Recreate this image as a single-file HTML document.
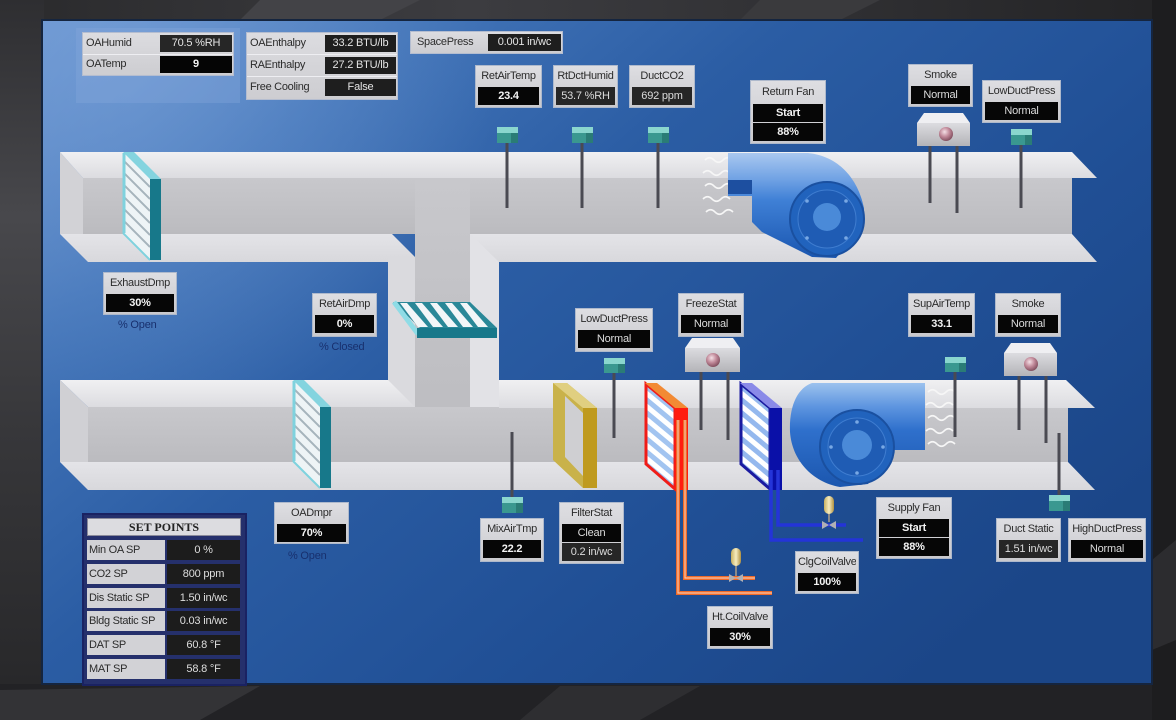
<!DOCTYPE html>
<html><head><meta charset="utf-8">
<style>
html,body{margin:0;padding:0;width:1176px;height:720px;overflow:hidden;background:#2a2a2d;font-family:"Liberation Sans",Arial,sans-serif;}
svg{position:absolute;left:0;top:0}
.b{position:absolute;box-sizing:border-box;border:1px solid #aeb9cc;background:linear-gradient(#dedee2,#c9c9cd);padding:0 2px 2px}
.l{text-align:center;font-size:11px;color:#2b2b2b;height:21px;line-height:21px;white-space:nowrap;overflow:hidden;letter-spacing:-0.3px}
.v{background:#060606;color:#f2f2f2;text-align:center;font-size:11px;font-weight:bold;height:18px;line-height:18px;white-space:nowrap;overflow:hidden;letter-spacing:-0.2px}
.v+.v{margin-top:1px}
.n{font-weight:normal;color:#dcdcdc}
.d{background:#262626}
.g{position:absolute;box-sizing:border-box;border:1px solid #b4bdd0;background:linear-gradient(#dcdce0,#cdcdd1)}
.r{position:absolute;left:0;right:0;height:22px;border-bottom:1px solid #eeeef2;box-sizing:border-box}
.rl{position:absolute;left:3px;top:0;font-size:11px;line-height:21px;color:#2b2b2b;letter-spacing:-0.3px;white-space:nowrap}
.rv{position:absolute;right:1px;top:2px;height:17px;background:#1e1e1e;color:#e4e4e4;text-align:center;font-size:11px;line-height:17px;white-space:nowrap;letter-spacing:-0.2px}
.u{position:absolute;font-size:11px;color:#18306e;white-space:nowrap;letter-spacing:-0.2px}
.sp{position:absolute;left:82px;top:513px;width:165px;height:173px;box-sizing:border-box;background:#25306c;border:2px solid #1a2262}
.st{position:absolute;left:87px;top:518px;width:154px;height:18px;box-sizing:border-box;background:#dcdce0;border:1px solid #8a8a9a;text-align:center;font-family:"Liberation Serif",serif;font-weight:bold;font-size:12px;line-height:16px;color:#222}
.sl{position:absolute;left:87px;width:78px;height:20px;background:#d2d2d6;font-size:11px;line-height:20px;color:#2b2b2b;padding-left:2px;box-sizing:border-box;letter-spacing:-0.3px;white-space:nowrap}
.sv{position:absolute;left:167px;width:73px;height:20px;background:#1c1c1c;color:#dedede;font-size:11px;line-height:20px;text-align:center;letter-spacing:-0.2px}
</style></head><body>
<svg width="1176" height="720" viewBox="0 0 1176 720">
<defs>
<linearGradient id="bgl" x1="0" y1="0" x2="0" y2="1">
<stop offset="0" stop-color="#2e2e31"/><stop offset="0.3" stop-color="#48484c"/><stop offset="0.6" stop-color="#37373a"/><stop offset="1" stop-color="#262628"/></linearGradient>
<linearGradient id="bgt" x1="0" y1="0" x2="1" y2="0">
<stop offset="0" stop-color="#2a2a2c"/><stop offset="0.4" stop-color="#3c3c40"/><stop offset="0.7" stop-color="#303033"/><stop offset="1" stop-color="#232325"/></linearGradient>
<linearGradient id="pn" x1="0" y1="0" x2="1" y2="0.7">
<stop offset="0" stop-color="#6792ce"/><stop offset="0.22" stop-color="#4274b8"/><stop offset="0.45" stop-color="#2b5da4"/><stop offset="0.75" stop-color="#204f95"/><stop offset="1" stop-color="#1b4688"/></linearGradient>
<radialGradient id="tl" cx="120" cy="50" r="380" gradientUnits="userSpaceOnUse">
<stop offset="0" stop-color="#7ea6dc" stop-opacity="0.55"/><stop offset="1" stop-color="#7ea6dc" stop-opacity="0"/></radialGradient>
<linearGradient id="face" x1="0" y1="0" x2="0" y2="1"><stop offset="0" stop-color="#f0f0f2"/><stop offset="1" stop-color="#dcdce0"/></linearGradient>
<linearGradient id="bot" x1="0" y1="0" x2="0" y2="1"><stop offset="0" stop-color="#e4e4e8"/><stop offset="1" stop-color="#d8d8dc"/></linearGradient>
<linearGradient id="wall" x1="0" y1="0" x2="0" y2="1"><stop offset="0" stop-color="#c8c8cc"/><stop offset="1" stop-color="#bbbbbf"/></linearGradient>
<linearGradient id="rf" x1="0" y1="153" x2="0" y2="258" gradientUnits="userSpaceOnUse">
<stop offset="0" stop-color="#a9c8f0"/><stop offset="0.25" stop-color="#70a2e4"/><stop offset="0.45" stop-color="#3f80d6"/><stop offset="1" stop-color="#1a56b0"/></linearGradient>
<linearGradient id="sf" x1="0" y1="383" x2="0" y2="488" gradientUnits="userSpaceOnUse">
<stop offset="0" stop-color="#9cc2ee"/><stop offset="0.22" stop-color="#5f96e0"/><stop offset="0.45" stop-color="#2f70cc"/><stop offset="1" stop-color="#1b56ae"/></linearGradient>
<linearGradient id="det" x1="0" y1="0" x2="0" y2="1"><stop offset="0" stop-color="#dcdce0"/><stop offset="1" stop-color="#b4b4b8"/></linearGradient>
<radialGradient id="ball" cx="0.4" cy="0.35" r="0.7"><stop offset="0" stop-color="#f4e0e6"/><stop offset="0.5" stop-color="#c08898"/><stop offset="1" stop-color="#7a4858"/></radialGradient>
<linearGradient id="act" x1="0" y1="0" x2="1" y2="0"><stop offset="0" stop-color="#c8b060"/><stop offset="0.5" stop-color="#f6ecc0"/><stop offset="1" stop-color="#b09040"/></linearGradient>
<clipPath id="cEx"><polygon points="123,152 150,179 150,260 123,233"/></clipPath>
<clipPath id="cOa"><polygon points="293,380 320,407 320,488 293,461"/></clipPath>
<clipPath id="cHt"><polygon points="645,383 675,408 675,490 645,465"/></clipPath>
<clipPath id="cCl"><polygon points="740,383 770,408 770,490 740,465"/></clipPath>
</defs>

<!-- outer background -->
<rect x="0" y="0" width="1176" height="720" fill="#29292c"/>
<rect x="0" y="0" width="1176" height="22" fill="url(#bgt)"/>
<rect x="0" y="0" width="44" height="720" fill="url(#bgl)"/>
<rect x="0" y="684" width="1176" height="36" fill="#222225"/>
<polygon points="0,690 260,686 200,720 0,720" fill="#333336"/>
<polygon points="560,686 700,686 640,720 520,720" fill="#2e2e31"/>
<rect x="1152" y="0" width="24" height="720" fill="#1d1d1f"/>
<polygon points="1152,560 1176,540 1176,640 1152,650" fill="#2c2c2f"/>
<polygon points="260,0 420,0 380,20 240,20" fill="#434347"/>
<polygon points="760,0 880,0 840,20 740,20" fill="#3a3a3d"/>

<!-- panel -->
<rect x="42" y="20" width="1110" height="664" fill="url(#pn)" stroke="#15253f" stroke-width="2"/>
<rect x="43" y="21" width="1108" height="662" fill="url(#tl)"/>
<rect x="76" y="28" width="164" height="75" fill="#86aadc" opacity="0.35"/>

<!-- ducts: walls -->
<rect x="83" y="178" width="989" height="56" fill="url(#wall)"/>
<rect x="415" y="178" width="55" height="284" fill="url(#wall)"/>
<rect x="88" y="407" width="980" height="55" fill="url(#wall)"/>
<polygon points="60,152 83,178 83,234 60,234" fill="#d2d2d6"/>
<polygon points="60,380 88,407 88,462 60,462" fill="#d0d0d4"/>
<!-- top duct faces -->
<polygon points="60,152 1072,152 1097,178 83,178" fill="url(#face)"/>
<polygon points="60,234 392,234 415,257 415,262 88,262" fill="url(#bot)"/>
<rect x="388" y="257" width="27" height="150" fill="#dadade"/>
<rect x="470" y="234" width="29" height="173" fill="#e2e2e6"/>
<polygon points="470,234 1072,234 1097,262 499,262" fill="url(#bot)"/>
<!-- lower duct faces -->
<polygon points="60,380 388,380 415,407 88,407" fill="url(#face)"/>
<polygon points="499,380 1066,380 1095,408 499,408" fill="url(#face)"/>
<polygon points="60,462 1068,462 1095,490 88,490" fill="url(#bot)"/>

<!-- exhaust damper -->
<polygon points="123,152 150,179 150,260 123,233" fill="#eef4f6"/>
<g clip-path="url(#cEx)" stroke="#a6b4bc" stroke-width="2">
<line x1="123" y1="160" x2="150" y2="187"/><line x1="123" y1="172" x2="150" y2="199"/><line x1="123" y1="184" x2="150" y2="211"/><line x1="123" y1="196" x2="150" y2="223"/><line x1="123" y1="208" x2="150" y2="235"/><line x1="123" y1="220" x2="150" y2="247"/></g>
<line x1="124" y1="153" x2="124" y2="233" stroke="#7fd2de" stroke-width="3"/>
<line x1="123" y1="233" x2="150" y2="260" stroke="#7fd2de" stroke-width="2"/>
<polygon points="123,152 134,152 161,179 150,179" fill="#84d4df"/>
<rect x="150" y="179" width="11" height="81" fill="#17788a"/>

<!-- OA damper -->
<polygon points="293,380 320,407 320,488 293,461" fill="#eef4f6"/>
<g clip-path="url(#cOa)" stroke="#a6b4bc" stroke-width="2">
<line x1="293" y1="388" x2="320" y2="415"/><line x1="293" y1="400" x2="320" y2="427"/><line x1="293" y1="412" x2="320" y2="439"/><line x1="293" y1="424" x2="320" y2="451"/><line x1="293" y1="436" x2="320" y2="463"/><line x1="293" y1="448" x2="320" y2="475"/></g>
<line x1="294" y1="381" x2="294" y2="461" stroke="#7fd2de" stroke-width="3"/>
<line x1="293" y1="461" x2="320" y2="488" stroke="#7fd2de" stroke-width="2"/>
<polygon points="293,380 304,380 331,407 320,407" fill="#84d4df"/>
<rect x="320" y="407" width="11" height="81" fill="#17788a"/>

<!-- return air damper -->
<polygon points="393,302 470,302 497,328 420,328" fill="#2a8898"/>
<g fill="#f2f6f8">
<polygon points="400,303 407,303 428,327 418,327"/><polygon points="415,303 422,303 443,327 433,327"/><polygon points="430,303 437,303 458,327 448,327"/><polygon points="445,303 452,303 473,327 463,327"/><polygon points="460,303 467,303 488,327 478,327"/></g>
<line x1="394" y1="302" x2="418" y2="334" stroke="#8fdce6" stroke-width="5"/>
<rect x="417" y="328" width="80" height="10" fill="#17788a"/>

<!-- filter -->
<polygon points="553,383 567,383 597,408 597,488 583,488 553,460" fill="#c9b24a"/>
<polygon points="565,396 583,413 583,476 565,457" fill="#cfcfd2"/>
<rect x="583" y="408" width="14" height="80" fill="#bf9a1e"/>
<polygon points="553,383 567,383 597,408 583,408" fill="#e0cf80"/>

<!-- heating coil -->
<polygon points="645,383 675,408 675,490 645,465" fill="#a2c4f0"/>
<g clip-path="url(#cHt)" stroke="#ffffff" stroke-width="5">
<line x1="645" y1="392" x2="675" y2="417"/><line x1="645" y1="405" x2="675" y2="430"/><line x1="645" y1="418" x2="675" y2="443"/><line x1="645" y1="431" x2="675" y2="456"/><line x1="645" y1="444" x2="675" y2="469"/><line x1="645" y1="457" x2="675" y2="482"/></g>
<polygon points="646,384 675,408 675,489 646,464" fill="none" stroke="#f01c18" stroke-width="3"/>
<polygon points="645,383 657,383 688,408 675,408" fill="#f28a34"/>
<rect x="675" y="408" width="13" height="82" fill="#ff1c10"/>

<!-- cooling coil -->
<polygon points="740,383 770,408 770,490 740,465" fill="#94b8ee"/>
<g clip-path="url(#cCl)" stroke="#ffffff" stroke-width="5">
<line x1="740" y1="392" x2="770" y2="417"/><line x1="740" y1="405" x2="770" y2="430"/><line x1="740" y1="418" x2="770" y2="443"/><line x1="740" y1="431" x2="770" y2="456"/><line x1="740" y1="444" x2="770" y2="469"/><line x1="740" y1="457" x2="770" y2="482"/></g>
<polygon points="741,384 770,408 770,489 741,464" fill="none" stroke="#1a1aa0" stroke-width="3"/>
<polygon points="740,383 752,383 782,408 770,408" fill="#8a8ae8"/>
<rect x="770" y="408" width="12" height="82" fill="#0a10a8"/>

<!-- heating pipes -->
<g fill="none" stroke-linejoin="miter">
<polyline points="678,420 678,593 772,593" stroke="#f06a28" stroke-width="4"/>
<polyline points="685,420 685,578 755,578" stroke="#f06a28" stroke-width="4"/>
<polyline points="678,420 678,593 772,593" stroke="#f8c4a8" stroke-width="1.2"/>
<polyline points="685,420 685,578 755,578" stroke="#f8c4a8" stroke-width="1.2"/>
<polyline points="771,470 771,540 863,540" stroke="#2434d8" stroke-width="3.5"/>
<polyline points="778,470 778,525 846,525" stroke="#2434d8" stroke-width="3.5"/>
</g>
<!-- valves -->
<line x1="736" y1="564" x2="736" y2="576" stroke="#8a8a8a" stroke-width="2"/>
<rect x="731" y="548" width="10" height="18" rx="5" fill="url(#act)"/>
<polygon points="729,574 743,582 743,574 729,582" fill="#b0b0b4"/>
<line x1="829" y1="512" x2="829" y2="522" stroke="#8a8a8a" stroke-width="2"/>
<rect x="824" y="496" width="10" height="18" rx="5" fill="url(#act)"/>
<polygon points="822,521 836,529 836,521 822,529" fill="#b0b0b4"/>

<!-- return fan -->
<g fill="none" stroke="#f6f6f6" stroke-width="1.6">
<path d="M705,160 c3,-3 6,-3 9,0 s6,3 9,0 s6,-3 9,0"/><path d="M703,173 c3,-3 6,-3 9,0 s6,3 9,0 s6,-3 9,0"/><path d="M705,186 c3,-3 6,-3 9,0 s6,3 9,0 s6,-3 9,0"/><path d="M703,199 c3,-3 6,-3 9,0 s6,3 9,0 s6,-3 9,0"/><path d="M706,212 c3,-3 6,-3 9,0 s6,3 9,0 s6,-3 9,0"/></g>
<path d="M728,153 L808,153 C838,156 858,178 864,208 L864,224 L836,258 L812,257 L762,232 L752,222 L752,196 L728,196 Z" fill="url(#rf)"/>
<rect x="728" y="180" width="24" height="14" fill="#1d4fa0"/>
<circle cx="827" cy="219" r="37" fill="#2163bd" stroke="#1a50a0" stroke-width="2"/>
<circle cx="827" cy="219" r="29" fill="#1f5cb4" stroke="#3f7dd0" stroke-width="1"/>
<circle cx="827" cy="217" r="14" fill="#4a8ad8"/>
<g fill="#78a8e4"><circle cx="807" cy="201" r="1.8"/><circle cx="846" cy="201" r="1.8"/><circle cx="807" cy="238" r="1.8"/><circle cx="846" cy="238" r="1.8"/></g>

<!-- supply fan -->
<path d="M812,383 L925,383 L925,450 L893,450 L868,484 L840,487 C812,482 792,460 790,432 C789,405 798,388 812,383 Z" fill="url(#sf)"/>
<circle cx="857" cy="447" r="37" fill="#2163bd" stroke="#1a50a0" stroke-width="2"/>
<circle cx="857" cy="447" r="29" fill="#1f5cb4" stroke="#3f7dd0" stroke-width="1"/>
<circle cx="857" cy="445" r="15" fill="#4a8ad8"/>
<g fill="#78a8e4"><circle cx="857" cy="422" r="1.8"/><circle cx="831" cy="447" r="1.8"/><circle cx="883" cy="447" r="1.8"/><circle cx="857" cy="473" r="1.8"/></g>
<g fill="none" stroke="#f6f6f6" stroke-width="1.6">
<path d="M928,392 c3,-3 6,-3 9,0 s6,3 9,0 s6,-3 9,0"/><path d="M926,405 c3,-3 6,-3 9,0 s6,3 9,0 s6,-3 9,0"/><path d="M928,418 c3,-3 6,-3 9,0 s6,3 9,0 s6,-3 9,0"/><path d="M926,431 c3,-3 6,-3 9,0 s6,3 9,0 s6,-3 9,0"/><path d="M928,444 c3,-3 6,-3 9,0 s6,3 9,0 s6,-3 9,0"/></g>

<!-- rods -->
<g stroke="#4a4a52" stroke-width="3">
<line x1="507" y1="142" x2="507" y2="208"/>
<line x1="582" y1="142" x2="582" y2="208"/>
<line x1="658" y1="142" x2="658" y2="208"/>
<line x1="1021" y1="144" x2="1021" y2="208"/>
<line x1="614" y1="372" x2="614" y2="438"/>
<line x1="955" y1="371" x2="955" y2="437"/>
<line x1="512" y1="432" x2="512" y2="498"/>
<line x1="1059" y1="433" x2="1059" y2="496"/>
<line x1="930" y1="145" x2="930" y2="203"/>
<line x1="957" y1="145" x2="957" y2="213"/>
<line x1="701" y1="371" x2="701" y2="430"/>
<line x1="728" y1="371" x2="728" y2="440"/>
<line x1="1019" y1="375" x2="1019" y2="430"/>
<line x1="1046" y1="375" x2="1046" y2="443"/>
</g>

<!-- sensor cubes -->
<g>
<rect x="497" y="127" width="21" height="16" fill="#3a9890"/><rect x="497" y="127" width="21" height="6" fill="#8ad6ce"/><rect x="511" y="133" width="7" height="10" fill="#2a7c76"/>
<rect x="572" y="127" width="21" height="16" fill="#3a9890"/><rect x="572" y="127" width="21" height="6" fill="#8ad6ce"/><rect x="586" y="133" width="7" height="10" fill="#2a7c76"/>
<rect x="648" y="127" width="21" height="16" fill="#3a9890"/><rect x="648" y="127" width="21" height="6" fill="#8ad6ce"/><rect x="662" y="133" width="7" height="10" fill="#2a7c76"/>
<rect x="1011" y="129" width="21" height="16" fill="#3a9890"/><rect x="1011" y="129" width="21" height="6" fill="#8ad6ce"/><rect x="1025" y="135" width="7" height="10" fill="#2a7c76"/>
<rect x="604" y="358" width="21" height="15" fill="#3a9890"/><rect x="604" y="358" width="21" height="6" fill="#8ad6ce"/><rect x="618" y="364" width="7" height="9" fill="#2a7c76"/>
<rect x="945" y="357" width="21" height="15" fill="#3a9890"/><rect x="945" y="357" width="21" height="6" fill="#8ad6ce"/><rect x="959" y="363" width="7" height="9" fill="#2a7c76"/>
<rect x="502" y="497" width="21" height="16" fill="#3a9890"/><rect x="502" y="497" width="21" height="6" fill="#8ad6ce"/><rect x="516" y="503" width="7" height="10" fill="#2a7c76"/>
<rect x="1049" y="495" width="21" height="16" fill="#3a9890"/><rect x="1049" y="495" width="21" height="6" fill="#8ad6ce"/><rect x="1063" y="501" width="7" height="10" fill="#2a7c76"/>
</g>

<!-- detectors -->
<polygon points="917,123 924,113 963,113 970,123" fill="#efeff2"/>
<rect x="917" y="123" width="53" height="23" fill="url(#det)"/>
<circle cx="946" cy="134" r="7" fill="url(#ball)"/>
<polygon points="685,348 692,338 733,338 740,348" fill="#efeff2"/>
<rect x="685" y="348" width="55" height="24" fill="url(#det)"/>
<circle cx="713" cy="360" r="7" fill="url(#ball)"/>
<polygon points="1004,353 1011,343 1050,343 1057,353" fill="#efeff2"/>
<rect x="1004" y="353" width="53" height="23" fill="url(#det)"/>
<circle cx="1031" cy="364" r="7" fill="url(#ball)"/>
</svg>

<!-- top-left groups -->
<div class="g" style="left:82px;top:32px;width:152px;height:44px">
 <div class="r" style="top:0"><span class="rl">OAHumid</span><span class="rv" style="width:72px;background:#262626">70.5 %RH</span></div>
 <div class="r" style="top:21px;border-bottom:0"><span class="rl">OATemp</span><span class="rv" style="width:72px;background:#050505;font-weight:bold;color:#f4f4f4">9</span></div>
</div>
<div class="g" style="left:246px;top:32px;width:152px;height:68px">
 <div class="r" style="top:0"><span class="rl">OAEnthalpy</span><span class="rv" style="width:71px">33.2 BTU/lb</span></div>
 <div class="r" style="top:22px"><span class="rl">RAEnthalpy</span><span class="rv" style="width:71px">27.2 BTU/lb</span></div>
 <div class="r" style="top:44px;border-bottom:0"><span class="rl">Free Cooling</span><span class="rv" style="width:71px">False</span></div>
</div>
<div class="g" style="left:410px;top:31px;width:153px;height:23px">
 <div class="r" style="top:0;border-bottom:0"><span class="rl" style="left:6px">SpacePress</span><span class="rv" style="width:73px">0.001 in/wc</span></div>
</div>

<!-- sensor boxes top -->
<div class="b" style="left:475px;top:65px;width:67px;height:43px"><div class="l">RetAirTemp</div><div class="v">23.4</div></div>
<div class="b" style="left:553px;top:65px;width:65px;height:43px"><div class="l">RtDctHumid</div><div class="v n d">53.7 %RH</div></div>
<div class="b" style="left:629px;top:65px;width:66px;height:43px"><div class="l">DuctCO2</div><div class="v n d">692 ppm</div></div>
<div class="b" style="left:750px;top:80px;width:76px;height:64px"><div class="l" style="height:23px;line-height:23px">Return Fan</div><div class="v">Start</div><div class="v">88%</div></div>
<div class="b" style="left:908px;top:64px;width:65px;height:43px"><div class="l">Smoke</div><div class="v n">Normal</div></div>
<div class="b" style="left:982px;top:80px;width:79px;height:43px"><div class="l">LowDuctPress</div><div class="v n">Normal</div></div>

<!-- dampers -->
<div class="b" style="left:103px;top:272px;width:74px;height:43px"><div class="l">ExhaustDmp</div><div class="v">30%</div></div>
<div class="u" style="left:118px;top:319px">% Open</div>
<div class="b" style="left:312px;top:293px;width:65px;height:44px"><div class="l">RetAirDmp</div><div class="v">0%</div></div>
<div class="u" style="left:319px;top:341px">% Closed</div>

<!-- middle boxes -->
<div class="b" style="left:575px;top:308px;width:78px;height:44px"><div class="l">LowDuctPress</div><div class="v n">Normal</div></div>
<div class="b" style="left:678px;top:293px;width:66px;height:44px"><div class="l">FreezeStat</div><div class="v n">Normal</div></div>
<div class="b" style="left:908px;top:293px;width:67px;height:44px"><div class="l">SupAirTemp</div><div class="v">33.1</div></div>
<div class="b" style="left:995px;top:293px;width:66px;height:44px"><div class="l">Smoke</div><div class="v n">Normal</div></div>

<!-- lower boxes -->
<div class="b" style="left:274px;top:502px;width:75px;height:42px"><div class="l">OADmpr</div><div class="v">70%</div></div>
<div class="u" style="left:288px;top:550px">% Open</div>
<div class="b" style="left:480px;top:518px;width:64px;height:44px"><div class="l">MixAirTmp</div><div class="v">22.2</div></div>
<div class="b" style="left:559px;top:502px;width:65px;height:62px"><div class="l">FilterStat</div><div class="v n">Clean</div><div class="v n d">0.2 in/wc</div></div>
<div class="b" style="left:876px;top:497px;width:76px;height:62px"><div class="l">Supply Fan</div><div class="v">Start</div><div class="v">88%</div></div>
<div class="b" style="left:795px;top:551px;width:64px;height:43px"><div class="l">ClgCoilValve</div><div class="v">100%</div></div>
<div class="b" style="left:707px;top:606px;width:66px;height:43px"><div class="l">Ht.CoilValve</div><div class="v">30%</div></div>
<div class="b" style="left:996px;top:518px;width:65px;height:44px"><div class="l">Duct Static</div><div class="v n d">1.51 in/wc</div></div>
<div class="b" style="left:1068px;top:518px;width:78px;height:44px"><div class="l">HighDuctPress</div><div class="v n">Normal</div></div>

<!-- set points -->
<div class="sp"></div>
<div class="st">SET POINTS</div>
<div class="sl" style="top:540px">Min OA SP</div><div class="sv" style="top:540px">0 %</div>
<div class="sl" style="top:564px">CO2 SP</div><div class="sv" style="top:564px">800 ppm</div>
<div class="sl" style="top:588px">Dis Static SP</div><div class="sv" style="top:588px">1.50 in/wc</div>
<div class="sl" style="top:611px">Bldg Static SP</div><div class="sv" style="top:611px">0.03 in/wc</div>
<div class="sl" style="top:635px">DAT SP</div><div class="sv" style="top:635px">60.8 °F</div>
<div class="sl" style="top:659px">MAT SP</div><div class="sv" style="top:659px">58.8 °F</div>
</body></html>
